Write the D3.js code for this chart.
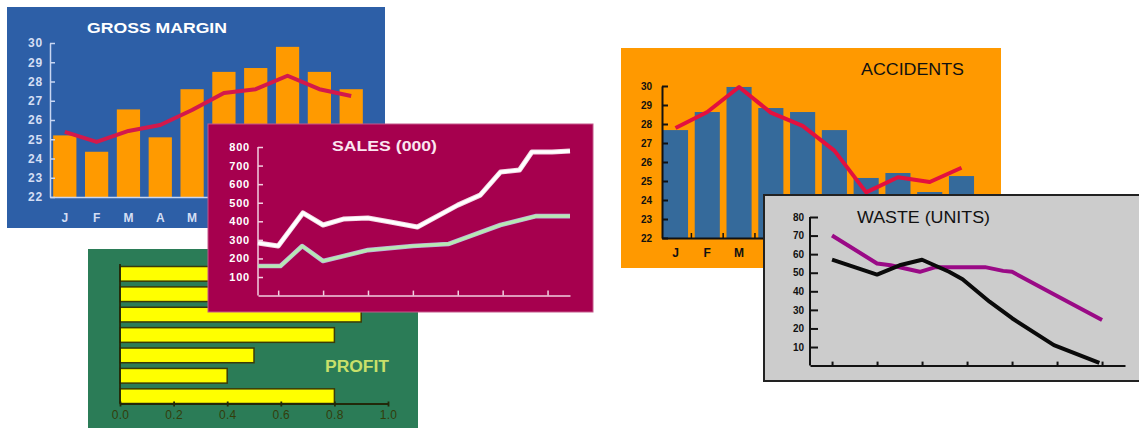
<!DOCTYPE html>
<html><head><meta charset="utf-8">
<script src="https://cdn.jsdelivr.net/npm/d3@7"></script>
<style>html,body{margin:0;padding:0;background:#fff;} svg{display:block;}</style>
</head><body><svg id="c" width="1139" height="428"></svg>
<script>
// ------------------ DATA ------------------
const months = ["J","F","M","A","M","J","J","A","S","O"];

const grossTicks = [22,23,24,25,26,27,28,29,30];
const grossBars  = [25.2, 24.35, 26.55, 25.1, 27.6, 28.5, 28.7, 29.8, 28.5, 27.6];
const grossLine  = [25.38, 24.86, 25.43, 25.74, 26.52, 27.4, 27.6, 28.3, 27.6, 27.25];

const salesTicks  = [100,200,300,400,500,600,700,800];
const salesXTicks = [0,2,4,6,8,10,12];
const salesWhiteX = [-0.9, 0, 1.1, 2, 2.9, 4, 5, 6.2, 8, 9, 9.9, 10.75, 11.3, 12.2, 13];
const salesWhite  = [283, 267, 445, 380, 412, 418, 396, 369, 487, 541, 665, 676, 773, 773, 778];
const salesGreenX = [-0.9, 0.1, 1.07, 2, 4, 6, 7.6, 9.9, 11.5, 13];
const salesGreen  = [159, 159, 267, 186, 245, 267, 278, 380, 428, 428];

const profitTicks = [0, 0.2, 0.4, 0.6, 0.8, 1.0];
const profitBars  = [0.75, 0.7, 0.9, 0.8, 0.5, 0.4, 0.8];

const accTicks = [22,23,24,25,26,27,28,29,30];
const accBars  = [27.68, 28.63, 29.95, 28.84, 28.63, 27.68, 25.16, 25.42, 24.42, 25.26];
const accLine  = [27.79, 28.63, 29.95, 28.6, 27.9, 26.6, 24.4, 25.2, 24.95, 25.7];

const wasteTicks  = [10,20,30,40,50,60,70,80];
const wasteXTicks = [0,1,2,3,4,5,6];
const wasteBlackX = [0, 1, 1.5, 2, 2.6, 2.9, 3.5, 4, 4.93, 5.94];
const wasteBlack  = [57, 49, 54, 57, 50.5, 46.5, 34.4, 25.5, 11, 1.5];
const wastePurpleX = [0, 1, 1.3, 1.95, 2.3, 3.4, 3.8, 4.0, 5, 6];
const wastePurple  = [70, 55, 54, 50.5, 53, 53, 51, 50.5, 37.5, 24.5];

// ------------------ DRAW ------------------
const svg = d3.select("#c");
const FONT = "'Liberation Sans', Arial, Helvetica, sans-serif";
const WASTE_LEFT = 764;

function styleAxis(g, lineColor, lw, textColor, size, weight, ls) {
  g.attr("font-family", FONT).attr("font-size", size).attr("font-weight", weight || "normal");
  g.selectAll("path.domain").attr("stroke", lineColor).attr("stroke-width", lw);
  g.selectAll(".tick line").attr("stroke", lineColor).attr("stroke-width", lw);
  g.selectAll(".tick text").attr("fill", textColor).style("letter-spacing", (ls||0) + "px");
}
function title(g, text, x, y, size, weight, color, len) {
  g.append("text").attr("x", x).attr("y", y).text(text)
    .attr("font-family", FONT).attr("font-size", size).attr("font-weight", weight)
    .attr("fill", color).attr("textLength", len).attr("lengthAdjust", "spacingAndGlyphs");
}

// ===== GROSS MARGIN =====
{
  const g = svg.append("g");
  g.append("rect").attr("x", 7).attr("y", 7).attr("width", 378).attr("height", 221).attr("fill", "#2d5fa7");
  const y = d3.scaleLinear().domain([22, 30]).range([197, 43]);
  const x = d3.scaleBand().domain(d3.range(months.length)).range([50, 366]).paddingInner(0.27).paddingOuter(0.1);
  g.selectAll("rect.bar").data(grossBars).join("rect").attr("class", "bar")
    .attr("x", (d, i) => x(i)).attr("y", d => y(d)).attr("width", x.bandwidth())
    .attr("height", d => y(22) - y(d)).attr("fill", "#ff9a00");
  const ya = g.append("g").attr("transform", "translate(50,0)")
    .call(d3.axisLeft(y).tickValues(grossTicks).tickSize(-5).tickSizeOuter(0).tickPadding(7).tickFormat(d3.format("d")));
  styleAxis(ya, "#c8d6f2", 1.5, "#d4def4", 12, "bold", 0.8);
  const xa = g.append("g").attr("transform", "translate(0,197)")
    .call(d3.axisBottom(x).tickSize(0).tickSizeOuter(0).tickPadding(16).tickFormat(i => months[i]));
  styleAxis(xa, "#c8d6f2", 1.5, "#d4def4", 12, "bold", 0);
  const line = d3.line().x((d, i) => x(i) + x.bandwidth() / 2).y(d => y(d));
  g.append("path").datum(grossLine).attr("d", line).attr("fill", "none")
    .attr("stroke", "#d3194c").attr("stroke-width", 4).attr("stroke-linejoin", "round");
  title(g, "GROSS MARGIN", 87, 33, 15, "bold", "#ffffff", 140);
}

// ===== PROFIT =====
{
  const g = svg.append("g");
  g.append("rect").attr("x", 88).attr("y", 249).attr("width", 330).attr("height", 190).attr("fill", "#2b7c57");
  const x = d3.scaleLinear().domain([0, 1]).range([120, 388]);
  const y = d3.scaleBand().domain(d3.range(profitBars.length)).range([266.5, 403.5]).paddingInner(0.28).paddingOuter(0);
  g.selectAll("rect.bar").data(profitBars).join("rect").attr("class", "bar")
    .attr("x", x(0)).attr("y", (d, i) => y(i)).attr("width", d => x(d) - x(0)).attr("height", y.bandwidth())
    .attr("fill", "#ffff00").attr("stroke", "#3a3a08").attr("stroke-width", 1.5);
  const ya = g.append("g").attr("transform", "translate(120,0)")
    .call(d3.axisLeft(y).tickSize(0).tickSizeOuter(0).tickFormat(""));
  ya.select("path.domain").attr("d", "M0,264V403.5");
  styleAxis(ya, "#22280a", 1.8, "#3b4712", 12);
  const xa = g.append("g").attr("transform", "translate(0,403.5)")
    .call(d3.axisBottom(x).tickValues(profitTicks).tickSize(3).tickSizeOuter(0).tickPadding(4).tickFormat(d3.format(".1f")));
  xa.selectAll(".tick line").attr("y1", -2);
  styleAxis(xa, "#22280a", 1.8, "#333d0c", 12, "normal", 0.3);
  title(g, "PROFIT", 325, 372, 16, "bold", "#c9e06a", 64);
}

// ===== SALES =====
{
  const g = svg.append("g");
  g.append("rect").attr("x", 208).attr("y", 124).attr("width", 385).attr("height", 188)
    .attr("fill", "#a6004e").attr("stroke", "#c4588a").attr("stroke-width", 1);
  const x = d3.scaleLinear().domain([-0.9, 13]).range([258, 570]);
  const y = d3.scaleLinear().domain([0, 800]).range([295.6, 147]);
  const ya = g.append("g").attr("transform", "translate(258,0)")
    .call(d3.axisLeft(y).tickValues(salesTicks).tickSize(-5).tickSizeOuter(0).tickPadding(8).tickFormat(d3.format("d")));
  ya.select("path.domain").attr("d", "M0,295.6V147");
  styleAxis(ya, "#f2cfe0", 1.5, "#ffffff", 11, "bold", 0.8);
  const xa = g.append("g").attr("transform", "translate(0,295.6)")
    .call(d3.axisBottom(x).tickValues(salesXTicks).tickSize(-5).tickSizeOuter(0).tickFormat(""));
  styleAxis(xa, "#f2cfe0", 1.5, "#ffffff", 11);
  const mk = xs => d3.line().x((d, i) => x(xs[i])).y(d => y(d));
  g.append("path").datum(salesGreen).attr("d", mk(salesGreenX)).attr("fill", "none")
    .attr("stroke", "#c0aee0").attr("stroke-width", 4.6).attr("stroke-linejoin", "round");
  g.append("path").datum(salesGreen).attr("d", mk(salesGreenX)).attr("fill", "none")
    .attr("stroke", "#b6e8b2").attr("stroke-width", 3.2).attr("stroke-linejoin", "round");
  g.append("path").datum(salesWhite).attr("d", mk(salesWhiteX)).attr("fill", "none")
    .attr("stroke", "#f4d8e6").attr("stroke-width", 5).attr("stroke-linejoin", "round");
  g.append("path").datum(salesWhite).attr("d", mk(salesWhiteX)).attr("fill", "none")
    .attr("stroke", "#ffffff").attr("stroke-width", 3.2).attr("stroke-linejoin", "round");
  title(g, "SALES (000)", 332, 151, 15, "bold", "#fbe6f0", 105);
}

// ===== ACCIDENTS =====
{
  const g = svg.append("g");
  g.append("rect").attr("x", 621).attr("y", 48).attr("width", 380).attr("height", 220).attr("fill", "#ff9900");
  const y = d3.scaleLinear().domain([22, 30]).range([238, 86]);
  const x = d3.scaleBand().domain(d3.range(months.length)).range([662, 975]).paddingInner(0.21).paddingOuter(0.03);
  g.selectAll("rect.bar").data(accBars).join("rect").attr("class", "bar")
    .attr("x", (d, i) => x(i)).attr("y", d => y(d)).attr("width", x.bandwidth())
    .attr("height", d => y(22) - y(d)).attr("fill", "#356a9b");
  const ya = g.append("g").attr("transform", "translate(662,0)")
    .call(d3.axisLeft(y).tickValues(accTicks).tickSize(-6).tickSizeOuter(0).tickPadding(10).tickFormat(d3.format("d")));
  styleAxis(ya, "#111", 2, "#111", 10, "bold", 0);
  // month labels that lie under the WASTE panel are hidden there anyway
  const xa = g.append("g").attr("transform", "translate(0,238)")
    .call(d3.axisBottom(x).tickSize(0).tickSizeOuter(0).tickPadding(10)
      .tickFormat(i => (x(i) + x.bandwidth() / 2 < WASTE_LEFT ? months[i] : "")));
  styleAxis(xa, "#111", 2, "#111", 12, "bold", 0);
  g.selectAll("line.sep").data(d3.range(1, months.length)).join("line").attr("class", "sep")
    .attr("x1", i => x(i) - x.step() * x.paddingInner() / 2).attr("x2", i => x(i) - x.step() * x.paddingInner() / 2)
    .attr("y1", 238).attr("y2", 233).attr("stroke", "#111").attr("stroke-width", 1.5);
  const line = d3.line().x((d, i) => x(i) + x.bandwidth() / 2).y(d => y(d));
  g.append("path").datum(accLine).attr("d", line).attr("fill", "none")
    .attr("stroke", "#e3103f").attr("stroke-width", 4).attr("stroke-linejoin", "round");
  title(g, "ACCIDENTS", 861, 75, 16, "normal", "#111", 103);
}

// ===== WASTE =====
{
  const g = svg.append("g");
  g.append("rect").attr("x", WASTE_LEFT).attr("y", 195).attr("width", 390).attr("height", 186)
    .attr("fill", "#cccccc").attr("stroke", "#222").attr("stroke-width", 2);
  const x = d3.scaleLinear().domain([-0.49, 6.51]).range([810, 1125]);
  const y = d3.scaleLinear().domain([0, 80]).range([365.6, 217]);
  const ya = g.append("g").attr("transform", "translate(810,0)")
    .call(d3.axisLeft(y).tickValues(wasteTicks).tickSize(-8).tickSizeOuter(0).tickPadding(6).tickFormat(d3.format("d")));
  ya.select("path.domain").attr("d", "M0,365.6V217");
  styleAxis(ya, "#111", 2, "#111", 10, "bold", 0);
  const xa = g.append("g").attr("transform", "translate(0,365.6)")
    .call(d3.axisBottom(x).tickValues(wasteXTicks).tickSize(-4).tickSizeOuter(0).tickFormat(""));
  styleAxis(xa, "#111", 2, "#111", 10);
  const mk = xs => d3.line().x((d, i) => x(xs[i])).y(d => y(d));
  g.append("path").datum(wastePurple).attr("d", mk(wastePurpleX)).attr("fill", "none")
    .attr("stroke", "#9a0a86").attr("stroke-width", 4).attr("stroke-linejoin", "round");
  g.append("path").datum(wasteBlack).attr("d", mk(wasteBlackX)).attr("fill", "none")
    .attr("stroke", "#0a0a0a").attr("stroke-width", 4).attr("stroke-linejoin", "round");
  title(g, "WASTE (UNITS)", 857, 223, 16, "normal", "#111", 133);
}
</script></body></html>
